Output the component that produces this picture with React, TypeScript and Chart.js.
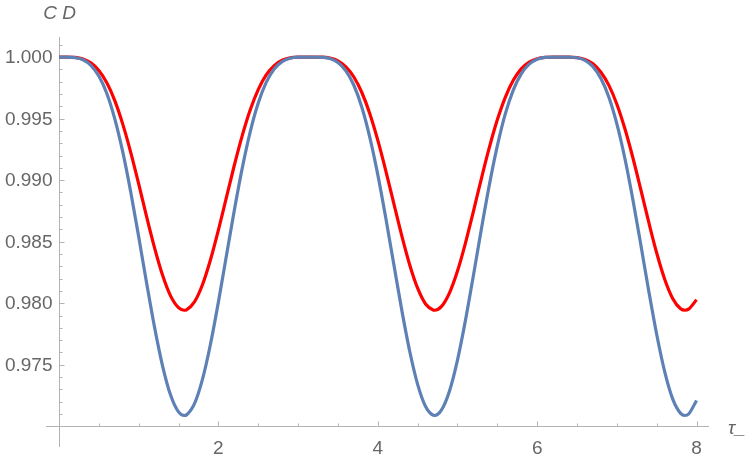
import { useEffect, useRef } from 'react';
import { Chart, registerables } from 'chart.js';

Chart.register(...registerables);

// τ values (horizontal axis samples)
const tau = [
  0.0, 0.1, 0.2, 0.3, 0.4, 0.5, 0.6, 0.7, 0.8, 0.9,
  1.0, 1.1, 1.2, 1.3, 1.4, 1.5, 1.5708, 1.6, 1.7, 1.8, 1.9,
  2.0, 2.1, 2.2, 2.3, 2.4, 2.5, 2.6, 2.7, 2.8, 2.9,
  3.0, 3.1, 3.1416, 3.2, 3.3, 3.4, 3.5, 3.6, 3.7, 3.8, 3.9,
  4.0, 4.1, 4.2, 4.3, 4.4, 4.5, 4.6, 4.7, 4.7124, 4.8, 4.9,
  5.0, 5.1, 5.2, 5.3, 5.4, 5.5, 5.6, 5.7, 5.8, 5.9,
  6.0, 6.1, 6.2, 6.2832, 6.3, 6.4, 6.5, 6.6, 6.7, 6.8, 6.9,
  7.0, 7.1, 7.2, 7.3, 7.4, 7.5, 7.6, 7.7, 7.8, 7.854, 7.9,
  8.0,
];

// blue curve
const blueCD = [
  1.00000, 1.00000, 0.99995, 0.99978, 0.99933, 0.99846, 0.99704, 0.99498, 0.99229, 0.98904,
  0.98540, 0.98163, 0.97802, 0.97490, 0.97254, 0.97117, 0.97088, 0.97093, 0.97184, 0.97381, 0.97665,
  0.98009, 0.98383, 0.98756, 0.99100, 0.99394, 0.99626, 0.99794, 0.99903, 0.99963, 0.99990,
  0.99999, 1.00000, 1.00000, 1.00000, 0.99998, 0.99988, 0.99956, 0.99888, 0.99771, 0.99592, 0.99348,
  0.99045, 0.98694, 0.98320, 0.97948, 0.97612, 0.97341, 0.97161, 0.97089, 0.97088, 0.97133, 0.97287,
  0.97538, 0.97861, 0.98226, 0.98603, 0.98962, 0.99278, 0.99538, 0.99732, 0.99864, 0.99943,
  0.99982, 0.99997, 1.00000, 1.00000, 1.00000, 0.99999, 0.99994, 0.99973, 0.99922, 0.99826, 0.99674,
  0.99457, 0.99178, 0.98845, 0.98477, 0.98100, 0.97746, 0.97444, 0.97223, 0.97105, 0.97088, 0.97100,
  0.97210,
];

// red curve
const redCD = [
  1.00000, 1.00000, 0.99997, 0.99984, 0.99953, 0.99891, 0.99791, 0.99646, 0.99455, 0.99226,
  0.98969, 0.98702, 0.98448, 0.98227, 0.98060, 0.97964, 0.97943, 0.97947, 0.98011, 0.98150, 0.98351,
  0.98594, 0.98858, 0.99121, 0.99364, 0.99572, 0.99736, 0.99855, 0.99931, 0.99974, 0.99993,
  0.99999, 1.00000, 1.00000, 1.00000, 0.99999, 0.99991, 0.99969, 0.99921, 0.99838, 0.99712, 0.99540,
  0.99325, 0.99078, 0.98813, 0.98551, 0.98313, 0.98122, 0.97994, 0.97944, 0.97943, 0.97974, 0.98084,
  0.98261, 0.98489, 0.98747, 0.99013, 0.99266, 0.99490, 0.99673, 0.99811, 0.99904, 0.99960,
  0.99987, 0.99998, 1.00000, 1.00000, 1.00000, 1.00000, 0.99996, 0.99981, 0.99945, 0.99877, 0.99770,
  0.99617, 0.99419, 0.99184, 0.98924, 0.98658, 0.98408, 0.98195, 0.98039, 0.97955, 0.97943, 0.97952,
  0.98029,
];

// ticks
const xMajorTicks = [2, 4, 6, 8];
const xMinorTicks = [0.5, 1, 1.5, 2.5, 3, 3.5, 4.5, 5, 5.5, 6.5, 7, 7.5];
const yMajorTicks = [0.975, 0.98, 0.985, 0.99, 0.995, 1.0];
const yMinorTicks = [
  0.971, 0.972, 0.973, 0.974, 0.976, 0.977, 0.978, 0.979, 0.981, 0.982, 0.983, 0.984,
  0.986, 0.987, 0.988, 0.989, 0.991, 0.992, 0.993, 0.994, 0.996, 0.997, 0.998, 0.999, 1.001,
];

const xAxisTitle = 'τ_';
const yAxisTitle = 'C D';

const X_CROSS = 0;
const Y_CROSS = 0.97;
const AXIS_COLOR = '#b3b3b3';
const LABEL_COLOR = '#666666';
const FONT = '19px "Liberation Sans", Arial, sans-serif';
const ITALIC_FONT = 'italic 19px "Liberation Sans", Arial, sans-serif';

const mmaAxes = {
  id: 'mmaAxes',
  beforeDatasetsDraw(chart: any) {
    const { ctx, chartArea } = chart;
    const xs = chart.scales.x;
    const ys = chart.scales.y;
    const x0 = Math.round(xs.getPixelForValue(X_CROSS)) + 0.5;
    const y0 = Math.round(ys.getPixelForValue(Y_CROSS)) + 0.5;
    ctx.save();
    ctx.strokeStyle = AXIS_COLOR;
    ctx.lineWidth = 1;
    ctx.beginPath();
    ctx.moveTo(chartArea.left, y0);
    ctx.lineTo(chartArea.right, y0);
    ctx.moveTo(x0, chartArea.top);
    ctx.lineTo(x0, chartArea.bottom);
    ctx.stroke();

    ctx.beginPath();
    for (const v of xMajorTicks) {
      const px = Math.round(xs.getPixelForValue(v)) + 0.5;
      ctx.moveTo(px, y0);
      ctx.lineTo(px, y0 - 5);
    }
    for (const v of xMinorTicks) {
      const px = Math.round(xs.getPixelForValue(v)) + 0.5;
      ctx.moveTo(px, y0);
      ctx.lineTo(px, y0 - 3);
    }
    for (const v of yMajorTicks) {
      const py = Math.round(ys.getPixelForValue(v)) + 0.5;
      ctx.moveTo(x0, py);
      ctx.lineTo(x0 + 5, py);
    }
    for (const v of yMinorTicks) {
      const py = Math.round(ys.getPixelForValue(v)) + 0.5;
      ctx.moveTo(x0, py);
      ctx.lineTo(x0 + 3, py);
    }
    ctx.stroke();

    ctx.fillStyle = LABEL_COLOR;
    ctx.font = FONT;
    ctx.textAlign = 'center';
    ctx.textBaseline = 'alphabetic';
    for (const v of xMajorTicks) {
      ctx.fillText(String(v), xs.getPixelForValue(v), y0 + 27);
    }
    ctx.textAlign = 'right';
    ctx.textBaseline = 'middle';
    for (const v of yMajorTicks) {
      ctx.fillText(v.toFixed(3), x0 - 7, ys.getPixelForValue(v) + 1);
    }

    ctx.font = ITALIC_FONT;
    ctx.textAlign = 'center';
    ctx.textBaseline = 'alphabetic';
    ctx.fillText(yAxisTitle, x0, 19);
    ctx.textAlign = 'left';
    ctx.fillText(xAxisTitle, chartArea.right + 19, y0 + 7);
    ctx.restore();
  },
};

export default function App() {
  const ref = useRef<HTMLCanvasElement | null>(null);

  useEffect(() => {
    if (!ref.current) return;
    const chart = new Chart(ref.current, {
      type: 'line',
      data: {
        datasets: [
          {
            label: 'blue',
            data: tau.map((t, i) => ({ x: t, y: blueCD[i] })),
            borderColor: '#5e81b5',
            borderWidth: 3.2,
            pointRadius: 0,
            cubicInterpolationMode: 'monotone',
            fill: false,
          },
          {
            label: 'red',
            data: tau.map((t, i) => ({ x: t, y: redCD[i] })),
            borderColor: '#ff0000',
            borderWidth: 3.2,
            pointRadius: 0,
            cubicInterpolationMode: 'monotone',
            fill: false,
          },
        ],
      },
      options: {
        responsive: false,
        animation: false,
        layout: { padding: { left: 46, right: 41, top: 37, bottom: 12 } },
        plugins: {
          legend: { display: false },
          tooltip: { enabled: false },
        },
        scales: {
          x: { type: 'linear', min: -0.163, max: 8.156, display: false },
          y: { type: 'linear', min: 0.96832, max: 1.00163, display: false },
        },
      },
      plugins: [mmaAxes],
    } as any);
    return () => chart.destroy();
  }, []);

  return (
    <div style={{ position: 'absolute', left: 0, top: 0, width: 750, height: 459, background: '#fff' }}>
      <canvas ref={ref} width={750} height={459} style={{ display: 'block' }} />
    </div>
  );
}
